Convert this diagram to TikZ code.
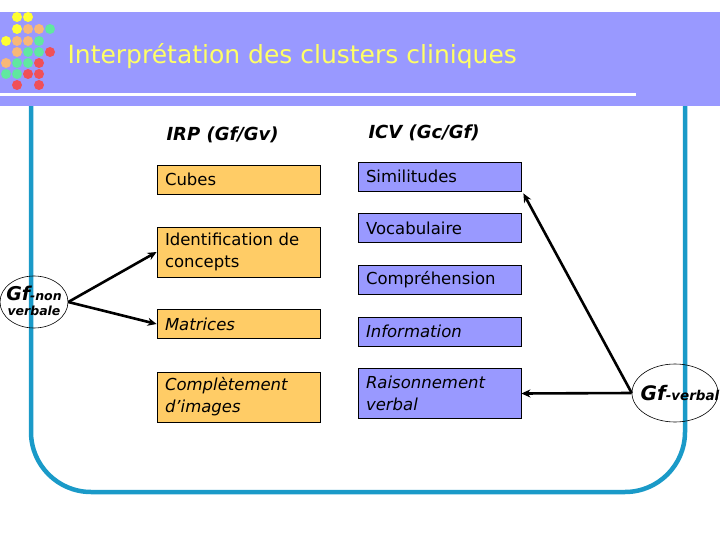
\documentclass[tikz,border=0pt]{standalone}
\usepackage{fontspec}
\setmainfont{DejaVu Sans}
\usetikzlibrary{arrows.meta,positioning,shapes.geometric}
\definecolor{bandblue}{HTML}{9999FF}
\definecolor{titleyellow}{HTML}{FFFF66}
\definecolor{irporange}{HTML}{FFCC66}
\definecolor{icvblue}{HTML}{9999FF}
\definecolor{framecyan}{HTML}{1A9AC8}
\definecolor{dotyellow}{HTML}{FFFF33}
\definecolor{dotorange}{HTML}{F8B878}
\definecolor{dotgreen}{HTML}{60E8A0}
\definecolor{dotred}{HTML}{F05058}

\begin{document}
\begin{tikzpicture}[x=1pt, y=-1pt,
    subtest/.style={draw=black, line width=0.8pt, anchor=center, align=left, text width=147pt, inner xsep=8pt, inner ysep=0pt, minimum height=29pt, font=\fontsize{16.5}{22}\selectfont},
    irp/.style={subtest, fill=irporange},
    icv/.style={subtest, fill=icvblue},
    cluster/.style={draw=black, line width=0.6pt, ellipse, inner sep=0pt},
    link/.style={line width=2.6pt, -{Stealth[length=9pt,width=8pt]}},
    colhead/.style={anchor=west, font=\fontsize{18}{20}\selectfont\bfseries\itshape},
]
\useasboundingbox (0,0) rectangle (720,540);

% cadre
\draw[framecyan, line width=4.5pt, rounded corners=60pt] (31,100) -- (31,492) -- (685,492) -- (685,100);

% bandeau du titre
\fill[bandblue] (0,12) rectangle (720,106);
\draw[white, line width=3pt] (0,95) -- (636,95);
\foreach \dx/\dy/\dc in {17/17/dotyellow, 28/17/dotyellow,
    17/29/dotyellow, 28/29/dotorange, 39/29/dotorange, 50/29/dotgreen,
    6/41/dotyellow, 17/41/dotorange, 28/41/dotorange, 39/41/dotgreen,
    17/52/dotorange, 28/52/dotgreen, 39/52/dotgreen, 50/52/dotred,
    6/63/dotorange, 17/63/dotgreen, 28/63/dotgreen, 39/63/dotred,
    6/74/dotgreen, 17/74/dotgreen, 28/74/dotred, 39/74/dotred,
    17/85/dotred, 39/85/dotred}
  \fill[\dc] (\dx,\dy) circle (5pt);
\node[anchor=west, text=titleyellow, font=\fontsize{25}{29}\selectfont] (title) at (64,56) {Interprétation des clusters cliniques};

% colonnes
\node[colhead] (irphead) at (163,135) {IRP (Gf/Gv)};
\node[colhead] (icvhead) at (365,133) {ICV (Gc/Gf)};

\node[irp] (cubes) at (238.5,179.5) {Cubes};
\node[irp, minimum height=50pt] (concepts) at (238.5,252) {Identification de\\concepts};
\node[irp] (matrices) at (238.5,324) {\itshape Matrices};
\node[irp, minimum height=50pt] (images) at (238.5,397) {\itshape Complètement\\d’images};

\node[icv] (simil) at (439.5,176.5) {Similitudes};
\node[icv] (voca) at (439.5,228) {Vocabulaire};
\node[icv] (compr) at (439.5,279.5) {Compréhension};
\node[icv] (info) at (439.5,331.5) {\itshape Information};
\node[icv, minimum height=50pt] (raison) at (439.5,393.5) {\itshape Raisonnement\\verbal};

% facteurs
\node[cluster, minimum width=68pt, minimum height=52pt,
  label={[align=center, font=\bfseries\itshape, inner sep=0pt, yshift=1pt]center:{{\fontsize{19}{19}\selectfont Gf}{\fontsize{12.5}{12.5}\selectfont -non}\\[3pt]{\fontsize{12.5}{15}\selectfont verbale}}}] (gfnv) at (34,302) {};
\node[cluster, minimum width=86pt, minimum height=58pt,
  label={[font=\bfseries\itshape, inner sep=0pt, xshift=5pt]center:{{\fontsize{20}{20}\selectfont Gf}{\fontsize{13.5}{13.5}\selectfont -verbal}}}] (gfv) at (675,393) {};

\draw[link] (gfnv.east) -- (concepts.west);
\draw[link] (gfnv.east) -- (matrices.west);
\draw[link] (gfv.west) -- ([shift={(2pt,-2pt)}]simil.south east);
\draw[link] (gfv.west) -- (raison.east);
\end{tikzpicture}
\end{document}
